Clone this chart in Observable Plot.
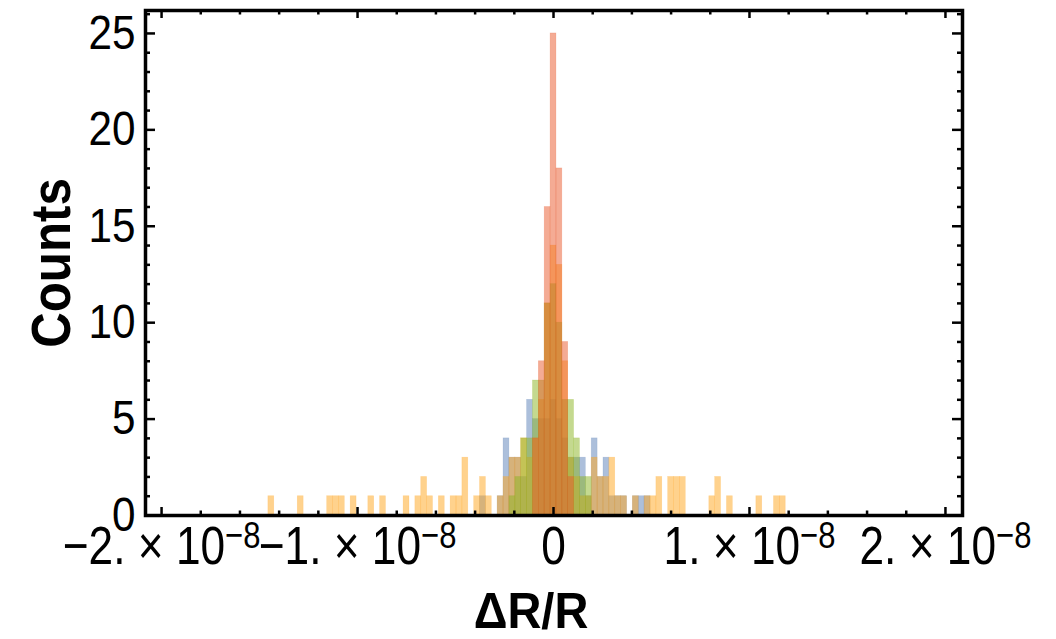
<!DOCTYPE html>
<html>
<head>
<meta charset="utf-8">
<script src="https://cdn.jsdelivr.net/npm/d3@7"></script>
<script src="https://cdn.jsdelivr.net/npm/@observablehq/plot@0.6"></script>
<style>
  html, body { margin: 0; padding: 0; background: #ffffff; }
  #chart svg { display: block; }
</style>
</head>
<body>
<div id="chart"></div>
<script>
// Histogram bin width (ΔR/R units); bin k covers [(k-0.5)w, (k+0.5)w]
const binWidth = 3e-10;

// Series 1 (blue)
const blueBins   = [-12, -9, -8, -7, -6, -5, -4, -3, -2, -1, 0, 1, 2, 3, 4, 5, 6, 7, 8, 9, 10, 11, 12, 14, 15, 16];
const blueCounts = [  1,  1,  4,  3,  3,  2,  6,  5,  5,  5, 6, 5, 4, 3, 3, 3, 1, 4, 2, 3,  1,  1,  1,  1,  1,  1];

// Series 2 (orange)
const orangeBins   = [-48, -43, -38, -37, -36, -34, -31, -29, -25, -23, -22, -21, -19, -17, -16, -15, -13, -12, -11,
                      -9, -8, -7, -6, -5, -4, -3, -2, -1, 0, 1, 2, 3, 4, 5, 6, 7, 8, 9, 10, 11, 12, 14, 16, 17, 18,
                      20, 21, 22, 27, 28, 30, 35, 38, 39];
const orangeCounts = [  1,   1,   1,   1,   1,   1,   1,   1,   1,   1,   2,   1,   1,   1,   1,   3,   1,   2,   1,
                       1,  2,  3,  3,  4,  3,  4,  6, 11, 14, 13, 8, 3, 2, 1, 1, 3, 2, 2, 3, 1, 1, 1, 1, 1, 2,
                       2,  2,  2,  1,  2,  1,  1,  1,  1];

// Series 3 (green)
const greenBins   = [-7, -6, -5, -4, -3, -2, -1,  0,  1, 2, 3, 4, 5, 6];
const greenCounts = [ 1,  2,  4,  4,  7,  7, 11, 12, 10, 6, 6, 4, 2, 2];

// Series 4 (red)
const redBins   = [-3, -2, -1,  0,  1, 2, 3];
const redCounts = [ 4,  8, 16, 25, 18, 9, 2];

const seriesColors = ["#5A7FB8", "#FFA51C", "#8AB420", "#E9582A"];

// Axis ticks
const xMajor = [-2e-8, -1e-8, 0, 1e-8, 2e-8];
const xMinor = [-1.8, -1.6, -1.4, -1.2, -0.8, -0.6, -0.4, -0.2, 0.2, 0.4, 0.6, 0.8, 1.2, 1.4, 1.6, 1.8].map(v => v * 1e-8);
const yMajor = [0, 5, 10, 15, 20, 25];
const yMinor = [1, 2, 3, 4, 6, 7, 8, 9, 11, 12, 13, 14, 16, 17, 18, 19, 21, 22, 23, 24, 26];

const xLabel = "ΔR/R";
const yLabel = "Counts";

function toRows(bins, counts) {
  return bins.map((k, i) => ({x1: (k - 0.5) * binWidth, x2: (k + 0.5) * binWidth, n: counts[i]}));
}
const allSeries = [
  toRows(blueBins, blueCounts),
  toRows(orangeBins, orangeCounts),
  toRows(greenBins, greenCounts),
  toRows(redBins, redCounts)
];

const W = 1056, H = 639;
const mL = 145, mR = 94, mT = 10, mB = 124;
const fw = W - mL - mR, fh = H - mT - mB;

function fmtX(d) {
  if (Math.abs(d) < 1e-15) return "0";
  const m = Math.round(d / 1e-8);
  return (m < 0 ? "−" : "") + Math.abs(m) + ".×10^−8";
}

const barMarks = allSeries.map((rows, i) =>
  Plot.rect(rows, {
    x1: "x1", x2: "x2", y1: d => 0, y2: "n",
    fill: seriesColors[i], fillOpacity: 0.5,
    stroke: seriesColors[i], strokeOpacity: 0.25, strokeWidth: 0.6
  })
);

const plot = Plot.plot({
  width: W, height: H,
  marginLeft: mL, marginRight: mR, marginTop: mT, marginBottom: mB,
  x: {domain: [-2.082e-8, 2.087e-8]},
  y: {domain: [0, 26.19]},
  style: {fontFamily: "'Liberation Sans', Arial, sans-serif", background: "#ffffff", color: "#000"},
  marks: [
    ...barMarks,
    // inward ticks: bottom & top
    Plot.tickX(xMajor, {x: d => d, insetTop: fh - 8, stroke: "black", strokeWidth: 2.5}),
    Plot.tickX(xMinor, {x: d => d, insetTop: fh - 4.5, stroke: "black", strokeWidth: 2.5}),
    Plot.tickX(xMajor, {x: d => d, insetBottom: fh - 8, stroke: "black", strokeWidth: 2.5}),
    Plot.tickX(xMinor, {x: d => d, insetBottom: fh - 4.5, stroke: "black", strokeWidth: 2.5}),
    // inward ticks: left & right
    Plot.tickY(yMajor, {y: d => d, insetRight: fw - 10, stroke: "black", strokeWidth: 2.5}),
    Plot.tickY(yMinor, {y: d => d, insetRight: fw - 5, stroke: "black", strokeWidth: 2.5}),
    Plot.tickY(yMajor, {y: d => d, insetLeft: fw - 10, stroke: "black", strokeWidth: 2.5}),
    Plot.tickY(yMinor, {y: d => d, insetLeft: fw - 5, stroke: "black", strokeWidth: 2.5}),
    Plot.frame({stroke: "black", strokeWidth: 3.5}),
    Plot.axisY({ticks: yMajor, tickSize: 0, tickPadding: 10, fontSize: 48, label: null, tickFormat: d => String(d)}),
    Plot.axisX({ticks: xMajor, tickSize: 0, tickPadding: 10, fontSize: 54, label: null, tickFormat: fmtX}),
    Plot.text([yLabel], {frameAnchor: "left", dx: -93, rotate: -90, textAnchor: "middle", lineAnchor: "middle",
                         fontSize: 56, fontWeight: "bold", fill: "black"}),
    Plot.text([xLabel], {frameAnchor: "bottom", dx: -23, dy: 96, textAnchor: "middle", lineAnchor: "middle",
                         fontSize: 50, fontWeight: "bold", fill: "black"})
  ]
});

const svg = d3.select(plot);
// superscript exponents on x tick labels, slightly condensed glyphs
svg.selectAll('g[aria-label="x-axis tick label"] text').each(function() {
  const t = this.textContent;
  const el = d3.select(this);
  if (t.includes("^")) {
    const [base, exp] = t.split("^");
    el.text(null);
    el.append("tspan").text(base.replace(".×", ". × "));
    el.append("tspan").attr("font-size", "0.7em").attr("dy", "-0.42em").text(exp);
  }
  el.attr("transform", (el.attr("transform") || "") + " scale(0.82,1)");
});
svg.selectAll('g[aria-label="y-axis tick label"] text').each(function() {
  const el = d3.select(this);
  el.attr("transform", (el.attr("transform") || "") + " scale(0.88,1)");
});
// condense the axis titles slightly along their length
svg.selectAll('g[aria-label="text"] text').each(function() {
  const el = d3.select(this);
  if (this.textContent === yLabel) el.attr("transform", (el.attr("transform") || "") + " scale(0.88,1)");
  if (this.textContent === xLabel) el.attr("transform", (el.attr("transform") || "") + " scale(0.94,1)");
});

document.getElementById("chart").appendChild(plot);
</script>
</body>
</html>
